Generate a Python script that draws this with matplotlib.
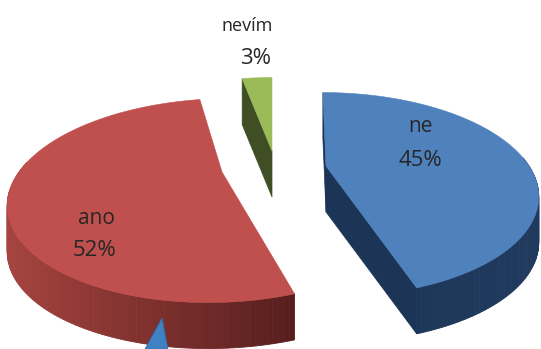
import numpy as np
import matplotlib
matplotlib.use("Agg")
import matplotlib.pyplot as plt
from matplotlib.patches import Polygon
from matplotlib.colors import to_rgb

# Survey answers, clockwise from twelve o'clock
labels = ["ne", "ano", "nevím"]
shares = [45, 52, 3]

TOP_COLORS = ["#4f81bd", "#c0504d", "#9bbb59"]
SIDE_LEFT = ["#1c3556", "#a5433f", "#3f4e24"]
SIDE_RIGHT = ["#1f3a5e", "#561e1d", "#3f4e24"]
CENTERS = [(326, 166), (222, 172), (272, 151)]
SKEW = [4.0, -10.0, 0.0]
NAME_POS = [(420, 127), (96, 219), (247, 26)]
NAME_SIZES = [15, 15, 13]
PCT_POS = [(420, 160), (95, 250), (256, 58)]

RX, RY, PERSP, DEPTH = 203.0, 94.0, 0.28, 46.0

plt.rcParams["font.family"] = ["Open Sans", "DejaVu Sans"]
fig = plt.figure(figsize=(5.41, 3.49), dpi=100)
ax = fig.add_axes([0, 0, 1, 1])
ax.set_xlim(0, 541)
ax.set_ylim(349, 0)
ax.axis("off")


def project(center, skew, theta, radius=1.0, drop=0.0):
    """Perspective map of a point on the pie disc, theta clockwise from north."""
    u = radius * np.sin(theta)
    v = radius * np.cos(theta)
    w = 1 + PERSP * v
    return np.column_stack([center[0] + (RX * u - skew * v) / w,
                            center[1] - RY * v / w + drop])


def mix(a, b, t):
    a, b = np.array(to_rgb(a)), np.array(to_rgb(b))
    return tuple(a + (b - a) * t)


edges = np.cumsum([0] + shares) / sum(shares) * 2 * np.pi

# Rim and cut faces go underneath the top faces
for i, (c, s, start, end) in enumerate(zip(CENTERS, SKEW, edges[:-1], edges[1:])):
    th = np.linspace(start, end, 160)
    top = project(c, s, th)
    low = project(c, s, th, drop=DEPTH)
    xmin, xmax = top[:, 0].min(), top[:, 0].max()
    for j in range(len(th) - 1):
        # Only the rim sections that face the viewer are visible
        if np.cos((th[j] + th[j + 1]) / 2) < 0.1:
            t = ((top[j, 0] + top[j + 1, 0]) / 2 - xmin) / max(xmax - xmin, 1)
            col = mix(SIDE_LEFT[i], SIDE_RIGHT[i], t)
            quad = [top[j], top[j + 1], low[j + 1], low[j]]
            ax.add_patch(Polygon(quad, closed=True, fc=col, ec=col, lw=0.6, zorder=2))
    apex = project(c, s, np.array([0.0]), radius=0.0)[0]
    apex_low = apex + [0, DEPTH]
    # Cut faces turned towards the viewer
    if i == 0:
        for rim, rim_low in ((top[0], low[0]), (top[-1], low[-1])):
            ax.add_patch(Polygon([rim, apex, apex_low, rim_low], closed=True,
                                 fc=SIDE_LEFT[i], ec=SIDE_LEFT[i], lw=0.5, zorder=2.5))
    if i == 2:
        rim, rim_low = top[0], low[0]
        ax.add_patch(Polygon([rim, apex, apex_low, rim_low], closed=True,
                             fc=SIDE_LEFT[i], ec=SIDE_LEFT[i], lw=0.5, zorder=2.5))

for i, (c, s, start, end) in enumerate(zip(CENTERS, SKEW, edges[:-1], edges[1:])):
    th = np.linspace(start, end, 200)
    rim = project(c, s, th)
    apex = project(c, s, np.array([0.0]), radius=0.0)
    ax.add_patch(Polygon(np.vstack([apex, rim]), closed=True, fc=TOP_COLORS[i],
                         ec=TOP_COLORS[i], lw=0.4, zorder=3))

for name, share, (nx, ny), size, (px, py) in zip(labels, shares, NAME_POS, NAME_SIZES, PCT_POS):
    ax.text(nx, ny, name, ha="center", va="center", fontsize=size,
            color="#262626", zorder=5)
    ax.text(px, py, f"{share}%", ha="center", va="center", fontsize=16,
            color="#262626", zorder=5)

# Callout tip poking in at the bottom edge
ax.add_patch(Polygon([(162, 318), (145, 349), (168, 349)], closed=True,
                     fc="#3f82c4", ec="#2c6aa5", lw=0.5, zorder=4))

fig.savefig("out.png", dpi=100)
